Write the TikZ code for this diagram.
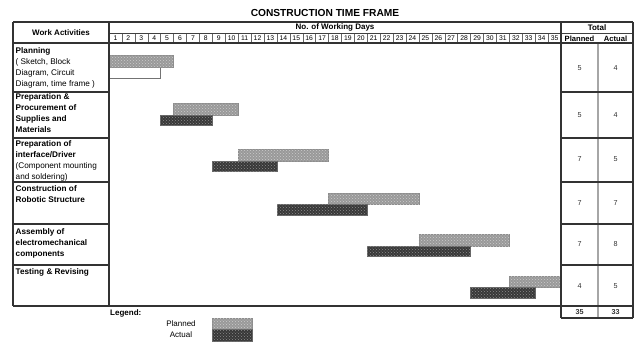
\documentclass[tikz,border=0pt]{standalone}
\usepackage{fontspec}
\setmainfont{Liberation Sans}
\usetikzlibrary{patterns}

\tikzset{
  frame/.style={draw=black!80, line width=1.1pt},
  thinrule/.style={draw=black!75, line width=0.5pt},
  greyrule/.style={draw=black!35, line width=1.1pt},
  plannedbar/.style={fill=black!40, draw=black!45, line width=0.6pt,
    postaction={pattern=crosshatch dots, pattern color=black!20}},
  actualbar/.style={fill=black!78, draw=black!60, line width=0.6pt,
    postaction={pattern=crosshatch dots, pattern color=black!45}},
  activity/.style={anchor=north west, align=left, inner sep=0pt,
    font=\fontsize{8.2}{10.8}\selectfont},
  daynum/.style={font=\fontsize{6.8}{7}\selectfont, inner sep=0pt},
  headtext/.style={font=\fontsize{8}{9}\selectfont\bfseries, inner sep=0pt},
  totnum/.style={font=\fontsize{7.2}{8}\selectfont, text=black!80, inner sep=0pt}
}

\begin{document}
\begin{tikzpicture}[x=1pt, y=-1pt]
  \useasboundingbox (0,0) rectangle (634,341);
  \def\dw{12.914}

  % Title
  \node[font=\fontsize{10.2}{11}\selectfont\bfseries] (title) at (325,13) {CONSTRUCTION TIME FRAME};

  % Header
  \node[headtext] (workhead) at (61,33) {Work Activities};
  \node[headtext] (dayshead) at (335,27.5) {No. of Working Days};
  \node[headtext] (totalhead) at (597,27.5) {Total};
  \node[headtext, font=\fontsize{7.6}{8}\selectfont\bfseries] (plannedhead) at (579.5,38.5) {Planned};
  \node[headtext, font=\fontsize{7.6}{8}\selectfont\bfseries] (actualhead) at (615.5,38.5) {Actual};
  \foreach \d in {1,...,35}
    \node[daynum] (day\d) at ({109+(\d-0.5)*\dw},38.5) {\d};
  \foreach \d in {1,...,34}
    \draw[draw=black!60, line width=0.4pt] ({109+\d*\dw},33.5) -- ++(0,9.5);

  % Bars: start day / days / top
  \draw[draw=black!55, line width=0.6pt, fill=white] (109,67) rectangle ++({4*\dw},11);
  \foreach \s/\n/\y in {1/5/55.5, 6/5/103.5, 11/7/149.5, 18/7/193, 25/7/234.5, 32/4/276}
    \draw[plannedbar] ({109+(\s-1)*\dw},\y) rectangle ++({\n*\dw},11.5);
  \foreach \s/\n/\y in {5/4/115, 9/5/161, 14/7/204.5, 21/8/246, 29/5/287.5}
    \draw[actualbar] ({109+(\s-1)*\dw},\y) rectangle ++({\n*\dw},10.5);

  % Table rules
  \draw[greyrule] (598,43) -- (598,318);
  \draw[thinrule] (109,33.5) -- (633,33.5);
  \draw[frame] (13,22) -- (633,22);
  \draw[frame] (13,43) -- (633,43);
  \draw[frame] (13,22) -- (13,306);
  \draw[frame] (109,22) -- (109,306);
  \draw[frame] (561,22) -- (561,318);
  \draw[frame] (633,22) -- (633,318);
  \foreach \y in {92,138,182,224,265} {
    \draw[frame] (13,\y) -- (109,\y);
    \draw[frame] (561,\y) -- (633,\y);
  }
  \draw[frame] (13,306) -- (633,306);
  \draw[frame] (561,318) -- (633,318);

  % Activities
  \node[activity] (plan) at (15.5,47.5) {\textbf{Planning}\\( Sketch, Block\\Diagram, Circuit\\Diagram, time frame )};
  \node[activity] (procure) at (15.5,93.5) {\textbf{Preparation \&}\\\textbf{Procurement of}\\\textbf{Supplies and}\\\textbf{Materials}};
  \node[activity] (driver) at (15.5,140.5) {\textbf{Preparation of}\\\textbf{interface/Driver}\\(Component mounting\\and soldering)};
  \node[activity] (robot) at (15.5,185.5) {\textbf{Construction of}\\\textbf{Robotic Structure}};
  \node[activity] (assembly) at (15.5,228.5) {\textbf{Assembly of}\\\textbf{electromechanical}\\\textbf{components}};
  \node[activity] (testing) at (15.5,268.5) {\textbf{Testing \& Revising}};

  % Totals
  \foreach \p/\a/\y [count=\i] in {5/4/68, 5/4/115, 7/5/159.5, 7/7/203, 7/8/244.5, 4/5/286.5} {
    \node[totnum] (plan\i) at (579.5,\y) {\p};
    \node[totnum] (act\i) at (615.5,\y) {\a};
  }
  \node[totnum, font=\fontsize{7.2}{8}\selectfont\bfseries] (plansum) at (579.5,312) {35};
  \node[totnum, font=\fontsize{7.2}{8}\selectfont\bfseries] (actsum) at (615.5,312) {33};

  % Legend
  \node[headtext, anchor=west] (legend) at (110,313) {Legend:};
  \node[daynum, font=\fontsize{8}{9}\selectfont] (legplan) at (181,324) {Planned};
  \node[daynum, font=\fontsize{8}{9}\selectfont] (legact) at (181,335) {Actual};
  \draw[plannedbar] (212,318.5) rectangle (252,329.5);
  \draw[actualbar] (212,329.5) rectangle (252,341);
\end{tikzpicture}
\end{document}
